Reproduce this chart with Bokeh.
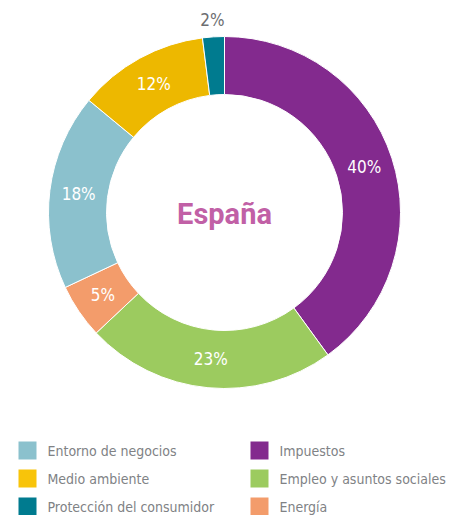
import math
from bokeh.plotting import figure
from bokeh.models import Range1d, ColumnDataSource
from bokeh.core.properties import value
from bokeh.embed import file_html
from bokeh.resources import INLINE

categories = ["Impuestos", "Empleo y asuntos sociales", "Energía",
              "Entorno de negocios", "Medio ambiente", "Protección del consumidor"]
values = [40, 23, 5, 18, 12, 2]
colors = ["#832A8E", "#9CCB5F", "#F39C6B", "#8BC1CD", "#EDB800", "#007B8F"]
legend_colors = {"Medio ambiente": "#F8C40A"}
legend_left = ["Entorno de negocios", "Medio ambiente", "Protección del consumidor"]
legend_right = ["Impuestos", "Empleo y asuntos sociales", "Energía"]
title = "España"

W, H = 449, 515
OFF = 0
cx, cy = 224, 212  # donut centre in page pixels
R_OUT, R_IN = 176, 118
COND = "DejaVu Sans Condensed"

p = figure(width=W, height=H, output_backend="svg", toolbar_location=None,
           x_range=Range1d(OFF - cx, OFF + W - cx), y_range=Range1d(cy - OFF - H, cy - OFF))
p.axis.visible = False
p.grid.visible = False
p.outline_line_color = None
p.min_border = 0
p.background_fill_color = "white"

total = sum(values)
starts, ends, lx, ly, labs, lcol = [], [], [], [], [], []
a = math.pi / 2
for v in values:
    span = 2 * math.pi * v / total
    starts.append(a)
    ends.append(a - span)
    mid = a - span / 2
    small = v < 3
    r = 193 if small else (R_OUT + R_IN) / 2
    lx.append(r * math.cos(mid))
    ly.append(r * math.sin(mid))
    labs.append(f"{v}%")
    lcol.append("#6D6E71" if small else "white")
    a -= span

src = ColumnDataSource(dict(s=starts, e=ends, c=colors))
p.annular_wedge(x=0, y=0, inner_radius=R_IN, outer_radius=R_OUT,
                start_angle="s", end_angle="e", direction="clock",
                fill_color="c", line_color="white", line_width=1, source=src)

p.text(x=lx, y=ly, text=labs, text_color=lcol, text_font=value(COND),
       text_font_size="17px", text_align="center", text_baseline="middle")

p.text(x=[0], y=[-1], text=[title], text_color="#C160A6", text_font=value("Roboto"),
       text_font_style="bold", text_font_size="29px", text_align="center",
       text_baseline="middle")

# legend
rows_y = [450, 478, 506]
for col_x, items in ((18, legend_left), (250, legend_right)):
    for yy, name in zip(rows_y, items):
        col = legend_colors.get(name, colors[categories.index(name)])
        p.rect(x=[col_x + 9 - cx], y=[cy - yy], width=18, height=18,
               fill_color=col, line_color=None)
        p.text(x=[col_x + 29 - cx], y=[cy - yy], text=[name], text_color="#808285",
               text_font=value(COND), text_font_size="14px",
               text_baseline="middle", text_align="left")

open("out.html", "w").write(file_html(p, INLINE))
